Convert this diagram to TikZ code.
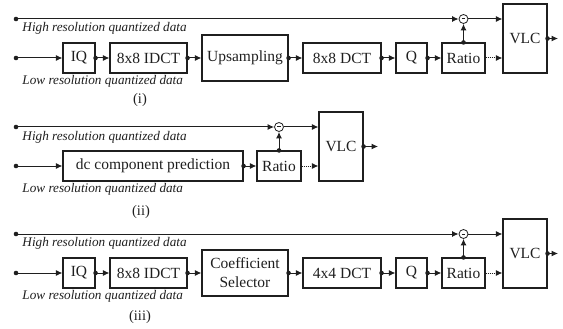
\documentclass[tikz,border=0pt]{standalone}
\usepackage{fontspec}
\setmainfont{Liberation Serif}
\usetikzlibrary{arrows.meta}
\begin{document}
\begin{tikzpicture}[x=1pt,y=-1pt,
 color=black!88, line width=1pt,
 blk/.style={draw, line width=1.1pt, rectangle, inner sep=0pt, minimum height=30pt, font=\fontsize{15.5}{18}\selectfont, align=center},
 arr/.style={-{Latex[length=6.5pt,width=6pt]}},
 sub/.style={circle, draw, line width=0.8pt, minimum size=9pt, inner sep=0pt,
   path picture={\draw[line width=1pt] ([xshift=-1.8pt]path picture bounding box.center) -- ([xshift=1.8pt]path picture bounding box.center);}},
 lbl/.style={font=\fontsize{13.2}{15}\selectfont\itshape, anchor=west, inner sep=0pt},
 capt/.style={font=\fontsize{14.5}{16}\selectfont, inner sep=0pt}
]
\useasboundingbox (0,0) rectangle (563,329);

% ---------------- panel (i)
\coordinate (hs1) at (16,19);
\coordinate (ls1) at (16,58);
\node[blk, minimum width=32pt] (iq1) at (79,58) {IQ};
\node[blk, minimum width=77pt] (idct1) at (148.5,58) {8x8 IDCT};
\node[blk, minimum width=86pt, minimum height=46pt] (up1) at (245,58) {Upsampling};
\node[blk, minimum width=78pt] (dct1) at (342,58) {8x8 DCT};
\node[blk, minimum width=31pt] (q1) at (411.5,58) {Q};
\node[blk, minimum width=43pt] (ra1) at (463.5,58) {Ratio};
\node[blk, minimum width=44pt, minimum height=69pt] (vlc1) at (525,38.5) {VLC};
\node[sub] (s1) at (463.5,19) {};
\coordinate (out1) at (558,38.5);
\fill (hs1) circle (2.3pt); \draw[arr] (hs1) -- (s1.west);
\draw[arr] (s1.east) -- (vlc1.west |- s1.east);
\fill (ls1) circle (2.3pt); \draw[arr] (ls1) -- (iq1.west);
\foreach \a/\b in {iq1/idct1, idct1/up1, up1/dct1, dct1/q1, q1/ra1}
  {\fill (\a.east) circle (2.3pt); \draw[arr] (\a.east) -- (\b.west);}
\fill (ra1.north) circle (2.3pt); \draw[arr] (ra1.north) -- (s1.south);
\draw[arr, densely dotted] (ra1.east) -- (vlc1.west |- ra1.east);
\fill (vlc1.east) circle (2.3pt); \draw[arr] (vlc1.east) -- (out1);
\node[lbl] (ht1) at (22,28) {High resolution quantized data};
\node[lbl] (lt1) at (22,81) {Low resolution quantized data};
\node[capt] (c1) at (140,100) {(i)};

% ---------------- panel (ii)
\coordinate (hs2) at (16,127);
\coordinate (ls2) at (16,166);
\node[blk, minimum width=180pt] (dc2) at (153,166) {dc component prediction};
\node[blk, minimum width=44pt] (ra2) at (279,166) {Ratio};
\node[blk, minimum width=44pt, minimum height=69pt] (vlc2) at (341,146.5) {VLC};
\node[sub] (s2) at (279,127) {};
\coordinate (out2) at (378,146.5);
\fill (hs2) circle (2.3pt); \draw[arr] (hs2) -- (s2.west);
\draw[arr] (s2.east) -- (vlc2.west |- s2.east);
\fill (ls2) circle (2.3pt); \draw[arr] (ls2) -- (dc2.west);
\fill (dc2.east) circle (2.3pt); \draw[arr] (dc2.east) -- (ra2.west);
\fill (ra2.north) circle (2.3pt); \draw[arr] (ra2.north) -- (s2.south);
\draw[arr, densely dotted] (ra2.east) -- (vlc2.west |- ra2.east);
\fill (vlc2.east) circle (2.3pt); \draw[arr] (vlc2.east) -- (out2);
\node[lbl] (ht2) at (22,137) {High resolution quantized data};
\node[lbl] (lt2) at (22,189) {Low resolution quantized data};
\node[capt] (c2) at (141,212) {(ii)};

% ---------------- panel (iii)
\coordinate (hs3) at (16,234);
\coordinate (ls3) at (16,273);
\node[blk, minimum width=32pt] (iq3) at (79,273) {IQ};
\node[blk, minimum width=77pt] (idct3) at (148.5,273) {8x8 IDCT};
\node[blk, minimum width=86pt, minimum height=46pt, font=\fontsize{15.5}{19}\selectfont] (cs3) at (245,273) {Coefficient\\Selector};
\node[blk, minimum width=78pt] (dct3) at (342,273) {4x4 DCT};
\node[blk, minimum width=31pt] (q3) at (411.5,273) {Q};
\node[blk, minimum width=43pt] (ra3) at (463.5,273) {Ratio};
\node[blk, minimum width=44pt, minimum height=69pt] (vlc3) at (525,253.5) {VLC};
\node[sub] (s3) at (463.5,234) {};
\coordinate (out3) at (558,253.5);
\fill (hs3) circle (2.3pt); \draw[arr] (hs3) -- (s3.west);
\draw[arr] (s3.east) -- (vlc3.west |- s3.east);
\fill (ls3) circle (2.3pt); \draw[arr] (ls3) -- (iq3.west);
\foreach \a/\b in {iq3/idct3, idct3/cs3, cs3/dct3, dct3/q3, q3/ra3}
  {\fill (\a.east) circle (2.3pt); \draw[arr] (\a.east) -- (\b.west);}
\fill (ra3.north) circle (2.3pt); \draw[arr] (ra3.north) -- (s3.south);
\draw[arr, densely dotted] (ra3.east) -- (vlc3.west |- ra3.east);
\fill (vlc3.east) circle (2.3pt); \draw[arr] (vlc3.east) -- (out3);
\node[lbl] (ht3) at (22,243) {High resolution quantized data};
\node[lbl] (lt3) at (22,296.5) {Low resolution quantized data};
\node[capt] (c3) at (140,317) {(iii)};
\end{tikzpicture}
\end{document}
